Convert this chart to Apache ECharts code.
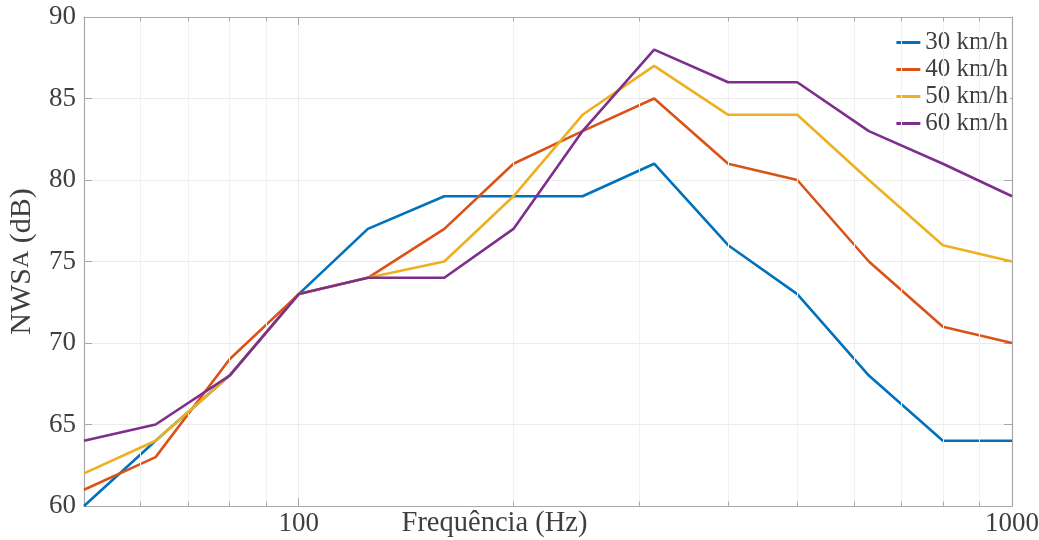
<!DOCTYPE html>
<html>
<head>
<meta charset="utf-8">
<script src="https://cdn.jsdelivr.net/npm/echarts@6/dist/echarts.min.js"></script>
<style>
html,body{margin:0;padding:0;background:#fff;}
#chart{width:1039px;height:540px;}
</style>
</head>
<body>
<div id="chart"></div>
<script>
const frequencies = [50, 63, 80, 100, 125, 160, 200, 250, 315, 400, 500, 630, 800, 1000];
const seriesNames = ['30 km/h', '40 km/h', '50 km/h', '60 km/h'];
const speed30 = [60, 64, 68, 73, 77, 79, 79, 79, 81, 76, 73, 68, 64, 64];
const speed40 = [61, 63, 69, 73, 74, 77, 81, 83, 85, 81, 80, 75, 71, 70];
const speed50 = [62, 64, 68, 73, 74, 75, 79, 84, 87, 84, 84, 80, 76, 75];
const speed60 = [64, 65, 68, 73, 74, 74, 77, 83, 88, 86, 86, 83, 81, 79];
const xTickLabels = [100, 1000];
const minorGridX = [60, 70, 80, 90, 200, 300, 400, 500, 600, 700, 800, 900];
const yMin = 60, yMax = 90, yStep = 5;
const xMin = 50, xMax = 1000;

const colors = ['#0072BD', '#D95319', '#EDB120', '#7E2F8E'];
const allValues = [speed30, speed40, speed50, speed60];
const FONT = "'Liberation Serif', 'Times New Roman', serif";
const TEXT = '#3f3f3f';
const AXIS = '#a8a8a8';

const chart = echarts.init(document.getElementById('chart'), null, {renderer: 'canvas'});

const minorLines = [];
minorGridX.forEach(v => {
  minorLines.push([{coord: [v, yMin], lineStyle: {color: '#f0f0f0', width: 1, type: 'solid'}}, {coord: [v, yMax]}]);
});
minorGridX.forEach(v => {
  minorLines.push([{coord: [v, yMin], lineStyle: {color: AXIS, width: 1, type: 'solid'}}, {coord: [v, yMin + 0.27]}]);
  minorLines.push([{coord: [v, yMax], lineStyle: {color: AXIS, width: 1, type: 'solid'}}, {coord: [v, yMax - 0.27]}]);
});

const series = [{
  type: 'line',
  name: '_minor',
  data: [],
  silent: true,
  z: 1,
  markLine: {
    silent: true,
    symbol: ['none', 'none'],
    label: {show: false},
    lineStyle: {type: 'solid'},
    animation: false,
    data: minorLines
  }
}];
seriesNames.forEach((n, i) => {
  series.push({
    type: 'line',
    name: n,
    data: frequencies.map((f, j) => [f, allValues[i][j]]),
    showSymbol: false,
    symbol: 'none',
    lineStyle: {width: 2.6, color: colors[i]},
    itemStyle: {color: colors[i]},
    z: 3 + i,
    animation: false
  });
});

const xCommon = {
  type: 'log', logBase: 10, min: xMin, max: xMax,
  axisLine: {show: true, lineStyle: {color: AXIS, width: 1.2}},
  axisTick: {show: true, inside: true, length: 8, lineStyle: {color: AXIS}},
};
const yCommon = {
  type: 'value', min: yMin, max: yMax, interval: yStep,
  axisLine: {show: true, lineStyle: {color: AXIS, width: 1.2}},
  axisTick: {show: true, inside: true, length: 8, lineStyle: {color: AXIS}},
};

chart.setOption({
  animation: false,
  backgroundColor: '#ffffff',
  grid: {left: 84, right: 27, top: 17, bottom: 34, containLabel: false, outerBoundsMode: 'none'},
  legend: {
    data: seriesNames,
    orient: 'vertical',
    right: 29,
    top: 27,
    padding: [2, 2, 2, 2],
    itemGap: 0,
    itemWidth: 24,
    itemHeight: 3,
    icon: 'rect',
    backgroundColor: '#ffffff',
    textStyle: {fontFamily: FONT, fontSize: 25, color: TEXT, lineHeight: 27}
  },
  xAxis: [
    Object.assign({}, xCommon, {
      position: 'bottom',
      name: 'Frequência (Hz)',
      nameLocation: 'middle',
      nameGap: 3,
      nameMoveOverlap: false,
      nameTextStyle: {fontFamily: FONT, fontSize: 28.5, color: TEXT, verticalAlign: 'top', padding: [0, 107, 0, 0]},
      axisLabel: {
        show: true, margin: 4, fontFamily: FONT, fontSize: 27, color: TEXT,
        formatter: v => (xTickLabels.indexOf(Math.round(v)) >= 0 ? String(Math.round(v)) : '')
      },
      splitLine: {show: true, lineStyle: {color: '#ebebeb', width: 1}}
    }),
    Object.assign({}, xCommon, {
      position: 'top',
      axisLabel: {show: false},
      splitLine: {show: false}
    })
  ],
  yAxis: [
    Object.assign({}, yCommon, {
      position: 'left',
      name: 'NWS{s|A} (dB)',
      nameLocation: 'middle',
      nameGap: 47,
      nameMoveOverlap: false,
      nameTextStyle: {fontFamily: FONT, fontSize: 30, color: TEXT,
        rich: {s: {fontFamily: FONT, fontSize: 24, color: TEXT}}},
      axisLabel: {show: true, margin: 8, fontFamily: FONT, fontSize: 27, color: TEXT},
      splitLine: {show: true, lineStyle: {color: '#ebebeb', width: 1}}
    }),
    Object.assign({}, yCommon, {
      position: 'right',
      axisLabel: {show: false},
      splitLine: {show: false}
    })
  ],
  series: series
});
</script>
</body>
</html>
